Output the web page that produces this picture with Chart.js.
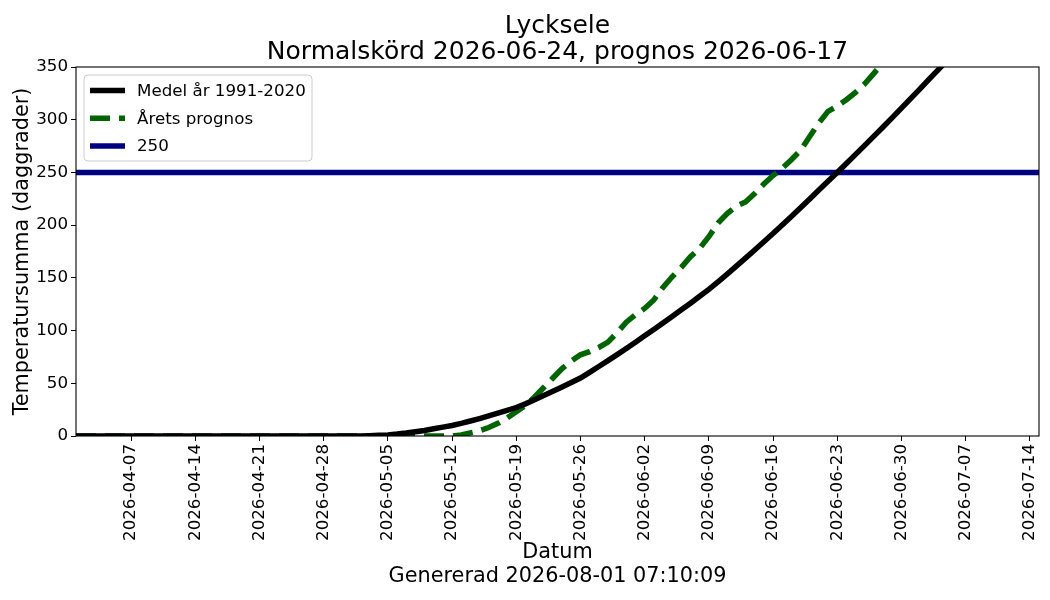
<!DOCTYPE html>
<html><head><meta charset="utf-8">
<script src="https://cdn.jsdelivr.net/npm/chart.js@4.4.0/dist/chart.umd.min.js"></script>
<style>html,body{margin:0;padding:0;background:#fff}#wrap{width:1050px;height:600px}</style>
</head><body><div id="wrap"><canvas id="c" width="1050" height="600"></canvas></div>
<script>
// x value = day index, day 0 = 2026-04-01
const titleLines = ['Lycksele', 'Normalskörd 2026-06-24, prognos 2026-06-17'];
const xTitleLines = ['Datum', 'Genererad 2026-08-01 07:10:09'];
const yTitle = 'Temperatursumma (daggrader)';
const seriesNames = ['Medel år 1991-2020', 'Årets prognos', '250'];

const tickDays = [6, 13, 20, 27, 34, 41, 48, 55, 62, 69, 76, 83, 90, 97, 104];
const tickLabels = ['2026-04-07','2026-04-14','2026-04-21','2026-04-28','2026-05-05','2026-05-12','2026-05-19',
  '2026-05-26','2026-06-02','2026-06-09','2026-06-16','2026-06-23','2026-06-30','2026-07-07','2026-07-14'];

// Medel år 1991-2020, one value per day from day 0
const medelValues = [
  0,0,0,0,0,0,0,0,0,0, 0,0,0,0,0,0,0,0,0,0, 0,0,0,0,0,0,0,0,0,0,
  0,0.1,0.3,0.6,1,1.8,2.8,4,5.3,6.8,
  8.4,10,12,14.2,16.5,19,21.6,24.2,27,30.5,
  34.3,38.3,42.4,46.5,50.7,55,60.4,65.9,71.5,77.2,
  83,89,95,101,107.2,113.4,119.7,126,132.5,139,
  146.2,153.6,161.1,168.7,176.4,184.2,192,200.1,208.3,216.6,
  224.9,233.3,241.6,250,258.5,267.1,275.7,284.4,293.1,302,
  311,320,329,338.2,347.3,356.5,365.8
];
// Årets prognos, one value per day from day 0
const prognosValues = [
  0,0,0,0,0,0,0,0,0,0, 0,0,0,0,0,0,0,0,0,0, 0,0,0,0,0,0,0,0,0,0,
  0,0,0,0,0,0,0,0,0,0, 0,0,1,3,5,8,12,17,23,29,
  37,46,55,64,71,77,80,84,89,98,
  108,115,121,129,141,151,160,170,178,189,
  202,211,218,222,230,239,247,254,262,271,
  284,297,308,313,319,326,334,344,354,364
];
const thresholdValue = 250;
const xMin = 0, xMax = 105;

const toPts = arr => arr.map((v, i) => ({x: i, y: v}));

const FONT = "'DejaVu Sans', sans-serif";
const colors = ['#000000', '#006400', '#000080'];

const framePlugin = {
  id: 'frame',
  afterDraw(chart) {
    const {ctx, chartArea: a} = chart;
    ctx.save();
    ctx.strokeStyle = '#000';
    ctx.lineWidth = 1.1;
    ctx.strokeRect(a.left, a.top, a.right - a.left, a.bottom - a.top);
    // legend box
    const lx = a.left + 8, ly = a.top + 8, lw = 228, lh = 86;
    ctx.fillStyle = 'rgba(255,255,255,0.8)';
    ctx.strokeStyle = '#cccccc';
    ctx.lineWidth = 1;
    ctx.beginPath();
    ctx.roundRect(lx, ly, lw, lh, 4);
    ctx.fill(); ctx.stroke();
    const ds = chart.data.datasets;
    ctx.font = "16.7px " + FONT;
    ctx.textBaseline = 'middle';
    ctx.fillStyle = '#000';
    for (let i = 0; i < ds.length; i++) {
      const y = ly + 15.5 + i * 27.8;
      ctx.beginPath();
      ctx.strokeStyle = ds[i].borderColor;
      ctx.lineWidth = ds[i].borderWidth;
      ctx.setLineDash(ds[i].borderDash || []);
      ctx.lineCap = 'butt';
      ctx.moveTo(lx + 6, y);
      ctx.lineTo(lx + 41, y);
      ctx.stroke();
      ctx.setLineDash([]);
      ctx.fillText(ds[i].label, lx + 53, y + 1);
    }
    ctx.restore();
  }
};

new Chart(document.getElementById('c'), {
  type: 'line',
  data: {
    datasets: [
      {label: seriesNames[0], data: toPts(medelValues), borderColor: colors[0], borderWidth: 5.5,
       pointRadius: 0, tension: 0, clip: 0, fill: false},
      {label: seriesNames[1], data: toPts(prognosValues), borderColor: colors[1], borderWidth: 5.5,
       borderDash: [20, 9], pointRadius: 0, tension: 0, clip: 0, fill: false},
      {label: seriesNames[2], data: [{x: xMin, y: thresholdValue}, {x: xMax, y: thresholdValue}],
       borderColor: colors[2], borderWidth: 5.5, pointRadius: 0, clip: 0, fill: false}
    ]
  },
  options: {
    responsive: false,
    animation: false,
    devicePixelRatio: 1,
    layout: {padding: {left: 0, right: 11, top: 0, bottom: 12}},
    plugins: {
      legend: {display: false},
      tooltip: {enabled: false},
      title: {display: true, fullSize: false, text: titleLines, color: '#000',
        font: {family: FONT, size: 25, weight: 'normal', lineHeight: 1.06}, padding: {top: 13, bottom: 1}}
    },
    scales: {
      x: {
        type: 'linear', min: xMin, max: xMax,
        afterBuildTicks(scale) { scale.ticks = tickDays.map(v => ({value: v})); },
        afterFit(scale) { scale.height = 152; scale.paddingLeft = 0; scale.paddingRight = 0; },
        grid: {display: true, drawOnChartArea: false, drawTicks: true, tickLength: 5, color: '#000'},
        border: {display: false},
        ticks: {
          autoSkip: false, maxRotation: 90, minRotation: 90, padding: 3, color: '#000',
          font: {family: FONT, size: 16.7},
          callback(v) { const i = tickDays.indexOf(v); return i >= 0 ? tickLabels[i] : ''; }
        },
        title: {display: true, text: xTitleLines, color: '#000',
          font: {family: FONT, size: 20.8, lineHeight: 1.12}, padding: {top: 0, bottom: 0}}
      },
      y: {
        min: 0, max: 350,
        afterFit(scale) { scale.width = 76; scale.paddingTop = 0; scale.paddingBottom = 0; },
        grid: {display: true, drawOnChartArea: false, drawTicks: true, tickLength: 5, color: '#000'},
        border: {display: false},
        ticks: {stepSize: 50, padding: 3, color: '#000', font: {family: FONT, size: 16.7}},
        title: {display: true, text: yTitle, color: '#000',
          font: {family: FONT, size: 20.8}, padding: {top: 10, bottom: 0}}
      }
    }
  },
  plugins: [framePlugin]
});
</script></body></html>
